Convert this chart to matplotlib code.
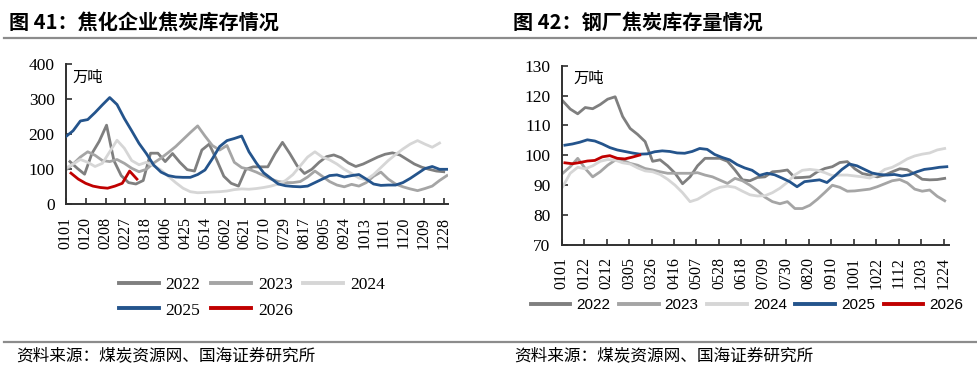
import matplotlib
matplotlib.use('Agg')
import matplotlib.pyplot as plt
from matplotlib.lines import Line2D
import datetime as dt

plt.rcParams['font.family'] = ['Liberation Serif', 'Noto Sans CJK SC']

# ---- 图41 焦化企业焦炭库存 (万吨), weekly ----
coke_2022 = [122, 103, 86, 145, 180, 226, 125, 82, 62, 58, 68, 146, 146, 122, 145, 120, 99, 95,
             155, 172, 128, 80, 60, 52, 100, 107, 107, 107, 145, 177, 145, 110, 88, 100, 120, 136,
             141, 133, 118, 108, 115, 125, 135, 143, 147, 141, 128, 115, 106, 100, 95, 93]
coke_2023 = [98, 115, 135, 150, 140, 125, 122, 128, 117, 103, 93, 100, 118, 132, 148, 165, 185,
             205, 224, 195, 168, 155, 168, 120, 105, 100, 92, 82, 72, 65, 62, 62, 65, 78, 95, 80,
             65, 55, 50, 57, 52, 62, 80, 92, 72, 58, 50, 44, 39, 45, 52, 68, 82]
coke_2024 = [103, 115, 128, 120, 108, 117, 150, 183, 160, 125, 113, 120, 110, 98, 80, 62, 46, 36,
             33, 34, 35, 36, 38, 42, 44, 43, 45, 48, 52, 58, 68, 85, 110, 135, 150, 135, 127, 115,
             100, 88, 75, 70, 85, 105, 125, 142, 158, 172, 182, 172, 163, 175]
coke_2025 = [193, 210, 238, 242, 262, 284, 305, 285, 245, 210, 174, 145, 112, 92, 82, 78, 77, 77,
             85, 98, 130, 165, 182, 188, 195, 150, 118, 90, 74, 58, 53, 51, 50, 52, 62, 72, 82, 84,
             78, 82, 85, 72, 58, 54, 55, 55, 62, 74, 88, 102, 108, 100, 100]
coke_2026 = [89, 72, 60, 52, 48, 46, 52, 60, 95, 72]
coke_start = {'2022': 4, '2023': 0, '2024': 0, '2025': 0, '2026': 5}

# ---- 图42 钢厂焦炭库存量 (万吨), weekly ----
steel_2022 = [118.2, 115.5, 113.9, 116, 115.6, 117, 118.8, 119.6, 113, 109, 107, 104.6, 98, 98.5,
              96.5, 94, 90.5, 92.8, 96.5, 99, 99, 99, 98, 95.1, 91.8, 91.5, 92.6, 92.8, 94.5, 94.7,
              95.1, 92.5, 92.6, 92.8, 94.5, 95.6, 96.2, 97.6, 97.9, 95.5, 93.9, 93.4, 92.8, 93.4,
              94.5, 95.5, 95.2, 93.7, 92, 91.8, 91.9, 92.3]
steel_2023 = [94, 96.2, 99, 95.6, 92.8, 94.5, 96.7, 98.4, 98.4, 97.3, 96.7, 95.6, 95.1, 94.5, 94,
              94, 94, 94, 94.2, 93.4, 92.8, 91.7, 90.6, 92.3, 91.5, 90, 88.2, 86, 84.5, 83.8, 84.5,
              82.2, 82.2, 83.3, 85.3, 87.6, 90, 89.3, 88, 88.1, 88.4, 88.7, 89.5, 90.5, 91.5, 91.9,
              90.8, 88.7, 88, 88.4, 86.3, 84.8]
steel_2024 = [89.5, 94, 96, 95.5, 96.5, 98, 98.6, 98.4, 97.5, 97.1, 95.8, 94.8, 94.5, 93.6, 92, 90,
              87.5, 84.5, 85.3, 86.8, 88.3, 89.3, 89.7, 89.3, 88, 86.8, 86.4, 86.5, 87.5, 89, 91,
              93.5, 95, 95.3, 95, 94.2, 93.2, 93.4, 93.4, 93.1, 92.8, 92.4, 93.5, 95.3, 96, 97.3,
              98.8, 99.8, 100.4, 100.8, 101.8, 102.3]
steel_2025 = [103.4, 103.8, 104.4, 105.2, 104.8, 103.8, 102.6, 101.8, 101.3, 100.8, 100.4, 100.5,
              101.2, 101.5, 101.3, 100.8, 100.7, 101.3, 102.3, 102, 100.3, 99.3, 98.5, 96.9, 95.8,
              95, 93.3, 94, 93.5, 92.4, 91.2, 89.5, 91.2, 91.5, 91.8, 90.9, 93, 95.3, 97.1, 96.5,
              95.3, 94.1, 93.6, 93.4, 93.6, 93.1, 93.5, 94.5, 95.3, 95.6, 96, 96.2]
steel_2026 = [97.5, 97.2, 97.6, 98.1, 98.3, 99.5, 99.9, 99, 98.8, 99.4, 100.1]
steel_start = {'2022': 1, '2023': 1, '2024': 1, '2025': 3, '2026': 3}

years = ['2022', '2023', '2024', '2025', '2026']
colors = {'2022': '#7f7f7f', '2023': '#a5a5a5', '2024': '#d6d6d6',
          '2025': '#24548c', '2026': '#c00000'}

coke = dict(zip(years, [coke_2022, coke_2023, coke_2024, coke_2025, coke_2026]))
steel = dict(zip(years, [steel_2022, steel_2023, steel_2024, steel_2025, steel_2026]))


def mmdd(day):
    d = dt.date(2021, 1, 1) + dt.timedelta(days=day)
    return d.strftime('%m%d')


def draw(ax, data, start, xmax, step, ylim, yticks):
    for y in years:
        xs = [start[y] + 7 * k for k in range(len(data[y]))]
        ax.plot(xs, data[y], color=colors[y], lw=2.0, solid_joinstyle='round',
                zorder=3 if y in ('2025', '2026') else 2)
    ticks = list(range(0, xmax - 3, step))
    ax.set_xticks(ticks)
    ax.set_xticklabels([mmdd(t) for t in ticks], rotation=90, fontsize=11.5)
    ax.set_xlim(0, xmax)
    ax.set_ylim(*ylim)
    ax.set_yticks(yticks)
    ax.tick_params(axis='y', labelsize=12.5, direction='in', length=4.5, width=1.2, pad=8, color='#303030')
    ax.tick_params(axis='x', direction='in', length=4, width=1.2, pad=9, color='#303030')
    for s in ('top', 'right'):
        ax.spines[s].set_visible(False)
    for s in ('left', 'bottom'):
        ax.spines[s].set_linewidth(1.4)
        ax.spines[s].set_color('#303030')
    ax.spines['bottom'].set_zorder(4)


fig = plt.figure(figsize=(9.78, 3.72), dpi=100)
ax1 = fig.add_axes([0.0672, 0.4508, 0.3908, 0.3764])
ax2 = fig.add_axes([0.5743, 0.3414, 0.3960, 0.4820])

draw(ax1, coke, coke_start, 365, 19, (0, 400), range(0, 401, 100))
draw(ax2, steel, steel_start, 362, 21, (70, 130), range(70, 131, 10))

ax1.text(0.018, 0.91, '万吨', transform=ax1.transAxes, fontsize=11, va='center',
         family=['Noto Sans CJK SC'])
ax2.text(0.03, 0.93, '万吨', transform=ax2.transAxes, fontsize=11, va='center',
         family=['Noto Sans CJK SC'])

handles = {y: Line2D([], [], color=colors[y], lw=2.8) for y in years}
order = ['2022', '2025', '2023', '2026', '2024']
fig.legend([handles[y] for y in order], order, ncol=3, frameon=False,
           loc='center left', bbox_to_anchor=(0.1215, 0.2), fontsize=12.5,
           handlelength=2.3, handletextpad=0.4, columnspacing=0.6, labelspacing=0.55,
           borderpad=0, borderaxespad=0)
fig.legend([handles[y] for y in years], years, ncol=5, frameon=False,
           loc='center left', bbox_to_anchor=(0.5425, 0.18),
           handlelength=2.6, handletextpad=0.4, columnspacing=0.55,
           prop={'family': 'Liberation Sans', 'size': 11},
           borderpad=0, borderaxespad=0)

title_font = dict(family=['Noto Sans CJK SC'], fontsize=14.5, fontweight='bold', va='center')
fig.text(9 / 978, 1 - 22 / 372, '图 41：焦化企业焦炭库存情况', **title_font)
fig.text(513 / 978, 1 - 22 / 372, '图 42：钢厂焦炭库存量情况', **title_font)

for yy in (38, 342):
    fig.add_artist(Line2D([0.004, 0.998], [1 - yy / 372] * 2, color='#8c8c8c', lw=1.6))

src_font = dict(family=['Noto Sans CJK SC'], fontsize=12, va='center')
fig.text(16 / 978, 1 - 356 / 372, '资料来源：煤炭资源网、国海证券研究所', **src_font)
fig.text(514 / 978, 1 - 356 / 372, '资料来源：煤炭资源网、国海证券研究所', **src_font)

fig.savefig('out.png', dpi=100)
